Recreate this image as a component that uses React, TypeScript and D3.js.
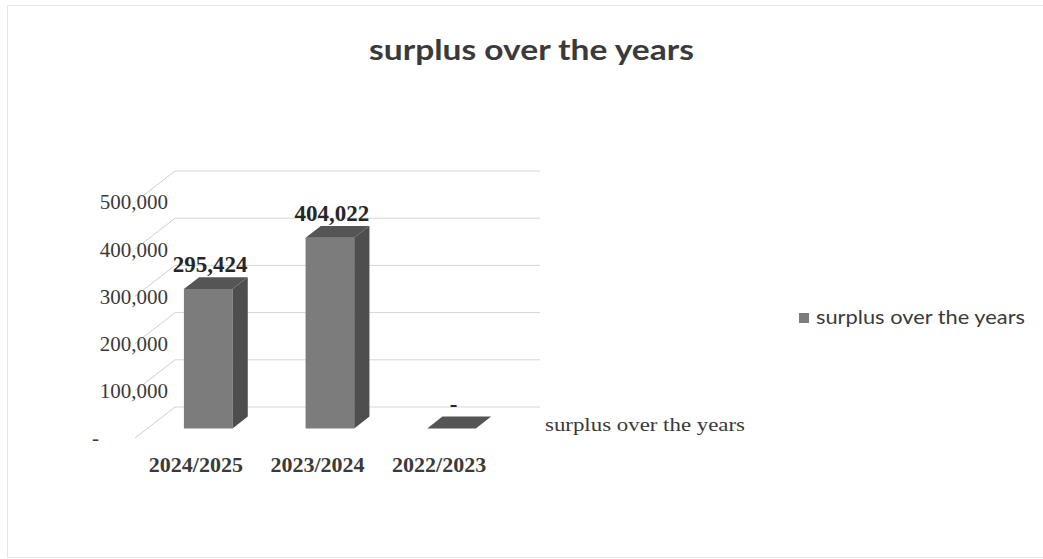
import React from "react";
import * as d3 from "d3";

const categories = ["2024/2025", "2023/2024", "2022/2023"];
const values = [295424, 404022, 0];
const yTicks = [0, 100000, 200000, 300000, 400000, 500000];
const seriesName = "surplus over the years";
const title = "surplus over the years";

const W = 1043;
const H = 559;
const DX = 40; // depth vector
const DY = -31;
const D0 = 0.31;
const D1 = 0.69;

export default function App() {
  const y = d3.scaleLinear().domain([0, 500000]).range([438, 202]);
  const x = d3.scaleBand<string>().domain(categories).range([135, 500]).paddingInner(0.6).paddingOuter(0.3);
  const xc = d3.scaleBand<string>().domain(categories).range([135, 500]);
  const fmt = d3.format(",");
  const P = (px: number, py: number, d: number) => [px + d * DX, py + d * DY];
  const poly = (pts: number[][]) => pts.map((p) => p.join(",")).join(" ");
  const serif = "'Liberation Serif', 'Times New Roman', serif";
  const sans = "Lato, 'Open Sans', sans-serif";

  return (
    <svg width={W} height={H} style={{ display: "block", position: "absolute", left: 0, top: 0 }}>
      <rect x={0} y={0} width={W} height={H} fill="#fff" />
      <rect x={7.5} y={5.5} width={1040} height={552} fill="none" stroke="#e6e6e6" strokeWidth={1} />
      <text x={531.5} y={60} textAnchor="middle" fontFamily={sans} fontWeight="bold" fontSize={28} fill="#3a3a3a" textLength={325} lengthAdjust="spacingAndGlyphs">
        {title}
      </text>
      {/* walls */}
      {yTicks.map((t) => {
        const yy = y(t);
        return (
          <g key={t}>
            <line x1={135} y1={yy} x2={135 + DX} y2={yy + DY} stroke="#cfcfcf" strokeWidth={1} />
            <line x1={135 + DX} y1={yy + DY} x2={540} y2={yy + DY} stroke="#d6d6d6" strokeWidth={1} />
            <text x={t === 0 ? 99 : 168} y={yy} dy="0.35em" textAnchor="end" fontFamily={serif} fontSize={21} fill="#3a3a3a">
              {t === 0 ? "-" : fmt(t)}
            </text>
          </g>
        );
      })}
      {/* bars */}
      {categories.map((c, i) => {
        const v = values[i];
        const bw = x.bandwidth();
        const xl = x(c)! + D0 * DX;
        const xr = xl + bw;
        const yb = y(0) + D0 * DY;
        const yt = y(v) + D0 * DY;
        const dd = D1 - D0;
        const front = [[xl, yb], [xr, yb], [xr, yt], [xl, yt]];
        const side = [[xr, yb], P(xr, yb, dd), P(xr, yt, dd), [xr, yt]];
        const top = [[xl, yt], [xr, yt], P(xr, yt, dd), P(xl, yt, dd)];
        const lx = (xl + xr) / 2 + 2;
        const ly = yt + dd * DY - 5;
        return (
          <g key={c}>
            {v > 0 && <polygon points={poly(front)} fill="#7c7c7c" />}
            {v > 0 && <polygon points={poly(side)} fill="#4e4e4e" />}
            <polygon points={poly(top)} fill="#555555" />
            <text x={lx} y={ly} textAnchor="middle" fontFamily={serif} fontWeight="bold" fontSize={23} fill="#262626">
              {v === 0 ? "-" : fmt(v)}
            </text>
          </g>
        );
      })}
      {categories.map((c) => (
        <text key={c} x={xc(c)! + xc.bandwidth() / 2} y={472} textAnchor="middle" fontFamily={serif} fontWeight="bold" fontSize={22} fill="#3a3a3a">
          {c}
        </text>
      ))}
      <text x={545} y={431} fontFamily={serif} fontSize={19} fill="#3a3a3a" textLength={200} lengthAdjust="spacingAndGlyphs">
        {seriesName}
      </text>
      {/* legend */}
      <rect x={799} y={313} width={10} height={10} fill="#7c7c7c" />
      <text x={816} y={324} fontFamily={sans} fontSize={19} fill="#3a3a3a" textLength={209} lengthAdjust="spacingAndGlyphs">
        {seriesName}
      </text>
    </svg>
  );
}
